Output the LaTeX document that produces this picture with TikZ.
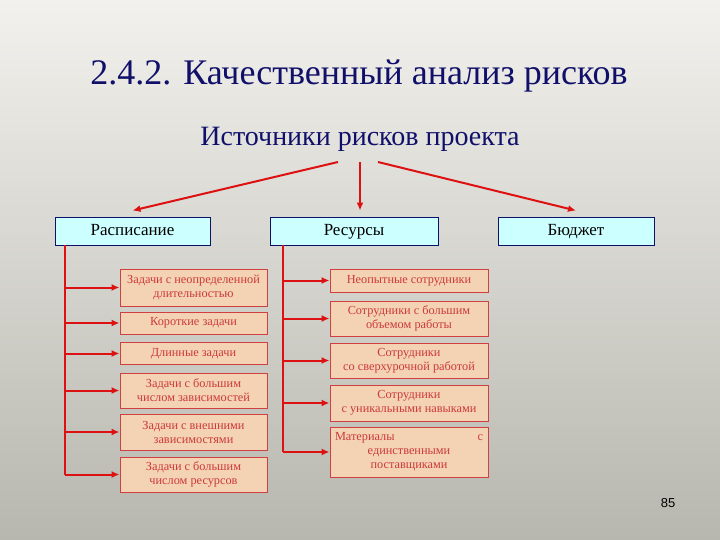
\documentclass[tikz,border=0pt]{standalone}
\usepackage{fontspec}
\setmainfont{Liberation Serif}
\newfontfamily\tnr{Liberation Serif}
\newfontfamily\numfont{Liberation Sans}
\usetikzlibrary{calc,arrows.meta}
\definecolor{bgtop}{HTML}{F2F1ED}
\definecolor{bgbot}{HTML}{B7B7AF}
\definecolor{navy}{HTML}{10106A}
\definecolor{cyanfill}{HTML}{CCFFFF}
\definecolor{peach}{HTML}{F4D2B4}
\definecolor{boxred}{HTML}{D04040}
\definecolor{txtred}{HTML}{CC3A3A}
\definecolor{linered}{HTML}{DD1111}
\tikzset{
  topbox/.style={draw=navy, line width=0.9pt, fill=cyanfill, inner sep=0pt,
    minimum height=28, text height=14, text depth=4,
    font=\tnr\fontsize{17}{19}\selectfont, text=black},
  subbox/.style={draw=boxred, line width=1pt, fill=peach, inner sep=0pt,
    align=center, font=\tnr\fontsize{12.3}{14}\selectfont, text=txtred},
  conn/.style={draw=linered, line width=2pt},
  arr/.style={conn, -{Latex[length=8pt,width=7pt]}},
}
\begin{document}
\begin{tikzpicture}[x=1pt,y=-1pt]
\useasboundingbox (0,0) rectangle (720,540);
\shade[top color=bgtop, bottom color=bgbot] (0,0) rectangle (720,540);
\node[text=navy, font=\tnr\fontsize{36}{40}\selectfont] (title) at (359,76) {2.4.2. Качественный анализ рисков};
\node[text=navy, font=\tnr\fontsize{28}{32}\selectfont] (sub) at (360,139) {Источники рисков проекта};
\coordinate (sL) at (338,162);
\coordinate (sM) at (360,162);
\coordinate (sR) at (378,162);
\node[topbox, minimum width=155] (rasp) at (132.5,231) {Расписание};
\node[topbox, minimum width=168] (res) at (354,231) {Ресурсы};
\node[topbox, minimum width=156] (bud) at (576,231) {Бюджет};
\draw[arr] (sL) -- ($(rasp.north)+(0,-6)$);
\draw[arr] (sM) -- ($(res.north)+(6,-6)$);
\draw[arr] (sR) -- ($(bud.north)+(0,-6)$);
% left column
\node[subbox, minimum width=147, minimum height=37] (l1) at (193.5,287.5) {Задачи с неопределенной\\длительностью};
\node[subbox, minimum width=147, minimum height=22] (l2) at (193.5,323) {Короткие задачи};
\node[subbox, minimum width=147, minimum height=22] (l3) at (193.5,353.5) {Длинные задачи};
\node[subbox, minimum width=147, minimum height=35] (l4) at (193.5,390.5) {Задачи с большим\\числом зависимостей};
\node[subbox, minimum width=147, minimum height=36] (l5) at (193.5,432) {Задачи с внешними\\зависимостями};
\node[subbox, minimum width=147, minimum height=35] (l6) at (193.5,474.5) {Задачи с большим\\числом ресурсов};
\coordinate (lb) at (65,245);
\draw[conn] (lb) -- (lb |- l6.west);
\foreach \n in {l1,l2,l3,l4,l5,l6}{\draw[arr] (lb |- \n.west) -- (\n.west);}
% right column
\node[subbox, minimum width=158, minimum height=23] (r1) at (409,280.5) {Неопытные сотрудники};
\node[subbox, minimum width=158, minimum height=35] (r2) at (409,318.5) {Сотрудники с большим\\объемом работы};
\node[subbox, minimum width=158, minimum height=35] (r3) at (409,360.5) {Сотрудники\\со сверхурочной работой};
\node[subbox, minimum width=158, minimum height=36] (r4) at (409,403) {Сотрудники\\с уникальными навыками};
\node[subbox, minimum width=158, minimum height=50] (r5) at (409,452) {\makebox[148pt][s]{Материалы\hfill с}\\единственными\\поставщиками};
\coordinate (rb) at (283,245);
\draw[conn] (rb) -- (rb |- r5.west);
\foreach \n in {r1,r2,r3,r4,r5}{\draw[arr] (rb |- \n.west) -- (\n.west);}
\node[font=\numfont\fontsize{13}{15}\selectfont] (pg) at (668,503) {85};
\end{tikzpicture}
\end{document}
